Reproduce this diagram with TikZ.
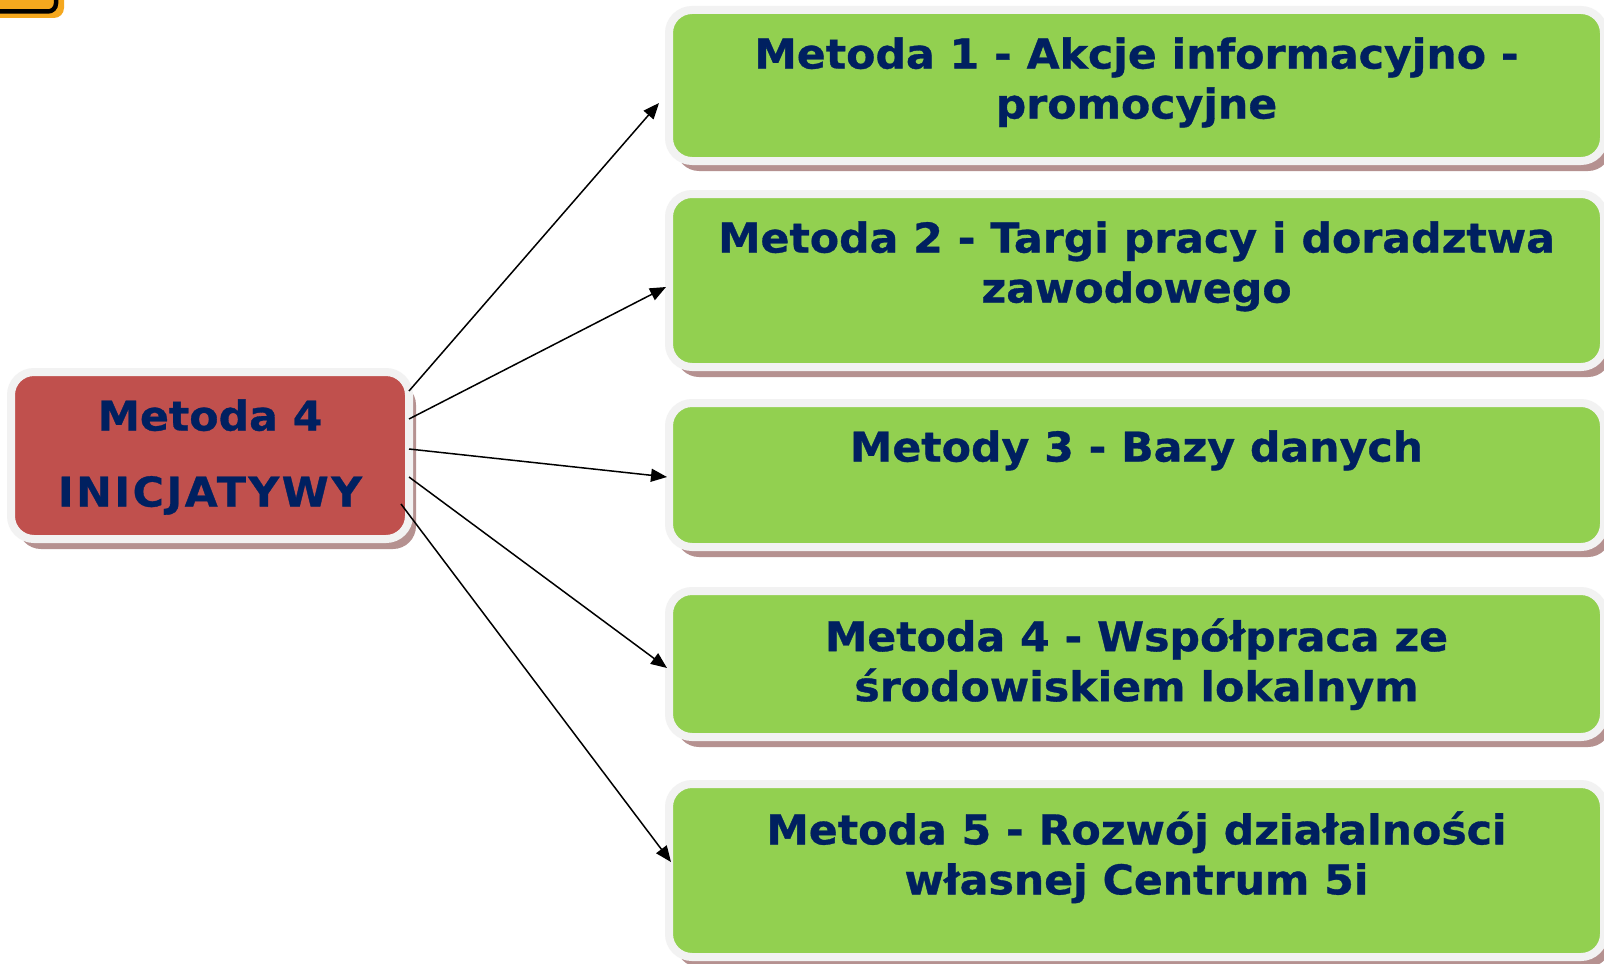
\documentclass[tikz,border=0pt]{standalone}
\usepackage{fontspec}
\setmainfont{DejaVu Sans}[FakeStretch=1.04, BoldFeatures={FakeBold=0.8}]
\usetikzlibrary{arrows.meta,shadows,calc}
\definecolor{grn}{HTML}{92D050}
\definecolor{redf}{HTML}{C0504D}
\definecolor{txt}{HTML}{002060}
\definecolor{rim}{HTML}{F2F2F2}
\definecolor{shc}{HTML}{B59190}
\definecolor{org}{HTML}{F5A81E}
\begin{document}
\begin{tikzpicture}[x=0.5pt,y=-0.5pt,
  box/.style={rounded corners=11.5pt, draw=rim, line width=4pt, outer sep=0pt, inner sep=0pt,
    drop shadow={shadow xshift=3.5pt, shadow yshift=-5pt, fill=shc, opacity=1}},
  gbox/.style={box, fill=grn, minimum width=467.5pt},
  lbl/.style={text=txt, font=\bfseries\fontsize{20.5}{25}\selectfont, align=center, inner sep=0pt, anchor=north},
  arr/.style={-{Triangle[length=8pt,width=6.5pt]}, line width=0.75pt, black}]
\useasboundingbox (0,0) rectangle (1604,963);
\clip (0,0) rectangle (1604,963);
\fill[white] (0,0) rectangle (1604,963);
% orange piece at top left
\fill[org, rounded corners=5pt] (-50,-50) rectangle (64,18);
\draw[black, line width=2.25pt, rounded corners=4pt] (-50,-50) rectangle (56,11.5);
% boxes
\node[gbox, minimum height=75.5pt] (b1) at (1136.5,85.5) {};
\node[gbox, minimum height=86.5pt] (b2) at (1136.5,280.5) {};
\node[gbox, minimum height=72pt] (b3) at (1136.5,475) {};
\node[gbox, minimum height=73pt] (b4) at (1136.5,664) {};
\node[gbox, minimum height=86.5pt] (b5) at (1136.5,870.5) {};
\node[box, fill=redf, minimum width=199pt, minimum height=83.5pt] (r) at (210,455.5) {};
% texts
\node[lbl] (t1) at ($(b1.north)+(0,27)$) {Metoda 1 - Akcje informacyjno -\\promocyjne};
\node[lbl] (t2) at ($(b2.north)+(0,27)$) {Metoda 2 - Targi pracy i doradztwa\\zawodowego};
\node[lbl] (t3) at ($(b3.north)+(0,27)$) {Metody 3 - Bazy danych};
\node[lbl] (t4) at ($(b4.north)+(0,27)$) {Metoda 4 - Współpraca ze\\środowiskiem lokalnym};
\node[lbl] (t5) at ($(b5.north)+(0,27)$) {Metoda 5 - Rozwój działalności\\własnej Centrum 5i};
\node[lbl] (tr) at ($(r.north)+(0,27)$) {Metoda 4\\[13pt]{\addfontfeatures{LetterSpace=6}INICJATYWY}};
% arrows
\draw[arr] ($(r.east)+(0,-64.5)$) -- ($(b1.west)+(-10,17.5)$);
\draw[arr] ($(r.east)+(0,-36.5)$) -- ($(b2.west)+(-3,6.5)$);
\draw[arr] ($(r.east)+(0,-6.5)$) -- ($(b3.west)+(-2,2)$);
\draw[arr] ($(r.east)+(0,21.5)$) -- ($(b4.west)+(-2,4)$);
\draw[arr] ($(r.east)+(-8,48.5)$) -- ($(b5.west)+(2,-8.5)$);
\end{tikzpicture}
\end{document}
